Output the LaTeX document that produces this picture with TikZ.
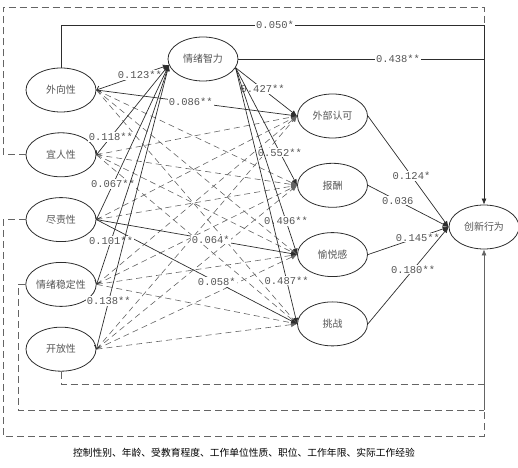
\documentclass[tikz,border=0pt]{standalone}
\usepackage{fontspec}
\setmainfont{Noto Sans CJK SC}
\setmonofont{Liberation Mono}
\usetikzlibrary{arrows.meta,positioning,shapes.geometric}
\definecolor{pathdark}{RGB}{45,45,45}
\definecolor{pathgrey}{RGB}{100,100,100}
\definecolor{textgrey}{RGB}{85,85,85}
\tikzset{
  >={Latex[length=6bp,width=5bp]},
  latent/.style={
    ellipse,
    draw=pathdark,
    line width=0.8pt,
    minimum width=70bp,
    minimum height=44bp,
    inner sep=0pt,
    text=textgrey,
    font=\fontsize{10}{12}\selectfont
  },
  sigpath/.style={->, line width=0.7pt, draw=pathdark},
  eipath/.style={{Straight Barb[length=3bp,width=6bp]}->, line width=0.7pt, draw=pathdark},
  nspath/.style={->, line width=0.6pt, draw=pathgrey, dash pattern=on 6bp off 4bp},
  ctrlpath/.style={line width=0.6pt, draw=pathgrey, dash pattern=on 7bp off 4bp},
  coef/.style={fill=white, inner sep=1pt, text=textgrey, font=\ttfamily\fontsize{10.5}{12}\selectfont}
}
\begin{document}
\begin{tikzpicture}[x=1bp, y=-1bp, node distance=20bp]
  \useasboundingbox (0,0) rectangle (518,468);
  % personality
  \node[latent] (ext) at (61,90) {外向性};
  \node[latent, below=of ext] (agr) {宜人性};
  \node[latent, below=of agr] (con) {尽责性};
  \node[latent, below=of con] (emo) {情绪稳定性};
  \node[latent, below=of emo] (opn) {开放性};
  \node[latent] (ei) at (203,59) {情绪智力};
  % motivation
  \node[latent] (rec) at (332.5,116) {外部认可};
  \node[latent, below=24.5bp of rec] (pay) {报酬};
  \node[latent, below=24.5bp of pay] (joy) {愉悦感};
  \node[latent, below=24.5bp of joy] (chl) {挑战};
  \node[latent] (inno) at (484,227) {创新行为};

  \coordinate (topright) at (inno.north |- 0,25);
  \coordinate (ctrltop) at (3,7);
  \coordinate (joinA) at (inno.south |- 0,384);
  \coordinate (joinB) at (inno.south |- 0,410);

  % control variables
  \draw[ctrlpath] (agr.west) -| (ctrltop) -| (topright);
  \draw[ctrlpath] (con.west) -| (3,436) -| (joinB);
  \draw[ctrlpath] (emo.west) -| (18,410) -- (joinB);
  \draw[ctrlpath] (opn.south) |- (joinA);
  \draw[sigpath, draw=pathgrey] (joinB) -- (inno.south);

  % non-significant paths
  \foreach \p/\m in {ext/pay, ext/joy, ext/chl,
                     agr/rec, agr/pay, agr/joy, agr/chl,
                     con/rec, con/pay,
                     emo/rec, emo/pay, emo/joy, emo/chl,
                     opn/rec, opn/pay, opn/joy, opn/chl}
    \draw[nspath] (\p.east) -- (\m.west);

  \draw[sigpath] (ext.east) -- node[coef, pos=0.47] {0.086**} (rec.west);
  \draw[sigpath] (con.east) -- node[coef, pos=0.57] {0.064*} (joy.west);
  \draw[sigpath] (con.east) -- node[coef, pos=0.6] {0.058*} (chl.west);

  \draw[eipath] (ext.east) -- node[coef, pos=0.6] {0.123**} (ei.190);
  \draw[eipath] (agr.east) -- node[coef, pos=0.2] {0.118**} (ei.190);
  \draw[eipath] (con.east) -- node[coef, pos=0.23] {0.067**} (ei.190);
  \draw[eipath] (emo.east) -- node[coef, pos=0.2] {0.101**} (ei.190);
  \draw[eipath] (opn.east) -- node[coef, pos=0.17] {0.138**} (ei.190);

  \draw[sigpath] (ei.-15) -- node[coef, pos=0.44] {0.427**} (rec.west);
  \draw[sigpath] (ei.-15) -- node[coef, pos=0.72] {0.552**} (pay.west);
  \draw[sigpath] (ei.-15) -- node[coef, pos=0.82] {0.496**} (joy.west);
  \draw[sigpath] (ei.-15) -- node[coef, pos=0.83] {0.487**} (chl.west);

  \draw[sigpath] (ext.north) |- node[coef, pos=0.753] {0.050*} (topright) -- (inno.north);
  \draw[sigpath, -] (ei.east) -- node[coef, pos=0.65] {0.438**} (ei.east -| topright);

  \draw[sigpath] (rec.east) -- node[coef, pos=0.54] {0.124*} (inno.west);
  \draw[sigpath] (pay.east) -- node[coef, pos=0.37] {0.036} (inno.west);
  \draw[sigpath] (joy.east) -- node[coef, pos=0.62] {0.145**} (inno.west);
  \draw[sigpath] (chl.east) -- node[coef, pos=0.56] {0.180**} (inno.west);

  \node[font=\fontsize{9.8}{12}\selectfont] (ctrl) at (244,453)
    {控制性别、年龄、受教育程度、工作单位性质、职位、工作年限、实际工作经验};
\end{tikzpicture}
\end{document}
